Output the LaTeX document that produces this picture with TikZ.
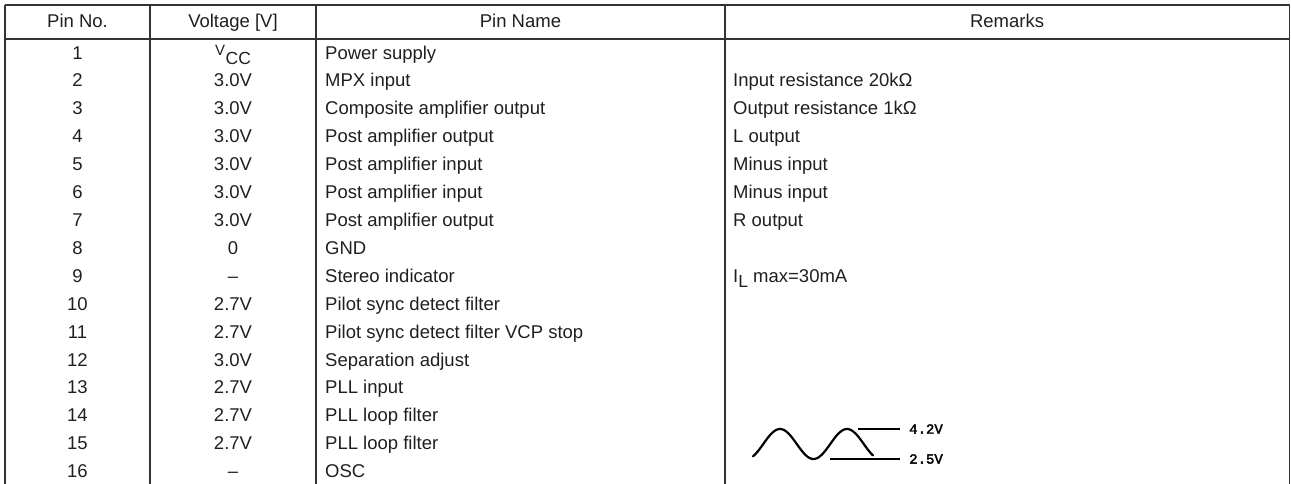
\documentclass[tikz,border=0pt]{standalone}
\usepackage{fontspec}
\setmainfont{Liberation Sans}
\newfontfamily\wavefont{Liberation Mono}[FakeBold=2.5]
\newcommand{\vccsym}{{\fontsize{15}{15}\selectfont\raisebox{3.5pt}{V}}\kern0.5pt{\fontsize{17.5}{17.5}\selectfont\raisebox{-5.5pt}{CC}}}
\newcommand{\ilsym}{I{\fontsize{17.5}{17.5}\selectfont\raisebox{-5pt}{L}}}
\begin{document}
\begin{tikzpicture}[x=1pt,y=-1pt,
  grid/.style={draw=black!80,line width=1.6pt},
  txt/.style={inner sep=0pt,anchor=base,text=black!88,font=\fontsize{18.5}{22}\selectfont},
  ltxt/.style={txt,anchor=base west},
  wave/.style={line width=2.2pt,line cap=round,line join=round},
  tick/.style={line width=1.2pt},
  wlab/.style={inner sep=0pt,anchor=west,font=\wavefont\fontsize{14}{14}\selectfont}]
\useasboundingbox (0,0) rectangle (1291,484);
% grid
\draw[grid] (5,5) -- (1290,5);
\draw[grid] (5,39) -- (1290,39);
\foreach \gx in {5,150,316,725,1289.5} \draw[grid] (\gx,5) -- (\gx,484);
% header
\node[txt] (h1) at (77.5,28) {Pin No.};
\node[txt] (h2) at (233,28) {Voltage [V]};
\node[txt] (h3) at (520.5,28) {Pin Name};
\node[txt] (h4) at (1007,28) {Remarks};
% rows: pin numbers, voltages, names
\foreach \i/\v/\n in {1/\vccsym/Power supply,
  2/3.0V/MPX input,
  3/3.0V/Composite amplifier output,
  4/3.0V/Post amplifier output,
  5/3.0V/Post amplifier input,
  6/3.0V/Post amplifier input,
  7/3.0V/Post amplifier output,
  8/0/GND,
  9/–/Stereo indicator,
  10/2.7V/Pilot sync detect filter,
  11/2.7V/Pilot sync detect filter VCP stop,
  12/3.0V/Separation adjust,
  13/2.7V/PLL input,
  14/2.7V/PLL loop filter,
  15/2.7V/PLL loop filter,
  16/–/OSC}{
  \pgfmathsetmacro{\by}{59.1+(\i-1)*27.9}
  \node[txt] (p\i) at (77.5,\by) {\i};
  \node[txt] (v\i) at (233,\by) {\v};
  \node[ltxt] (n\i) at (325,\by) {\n};
}
% remarks
\foreach \i/\r in {2/Input resistance 20kΩ,
  3/Output resistance 1kΩ,
  4/L output,
  5/Minus input,
  6/Minus input,
  7/R output,
  9/\ilsym\ max=30mA}{
  \pgfmathsetmacro{\by}{59.1+(\i-1)*27.9}
  \node[ltxt] (r\i) at (733,\by) {\r};
}
% waveform
\draw[wave] plot[domain=-27:93,samples=80,smooth,variable=\t] ({780+\t},{444-15*cos(5.3731*\t)});
\coordinate (t1) at (858,429);
\coordinate (t2) at (900,429);
\coordinate (b1) at (830,459);
\coordinate (b2) at (900,459);
\draw[tick] (t1) -- (t2);
\draw[tick] (b1) -- (b2);
\node[wlab] (l42) at (909,429) {4.2V};
\node[wlab] (l25) at (909,459) {2.5V};
\end{tikzpicture}
\end{document}
